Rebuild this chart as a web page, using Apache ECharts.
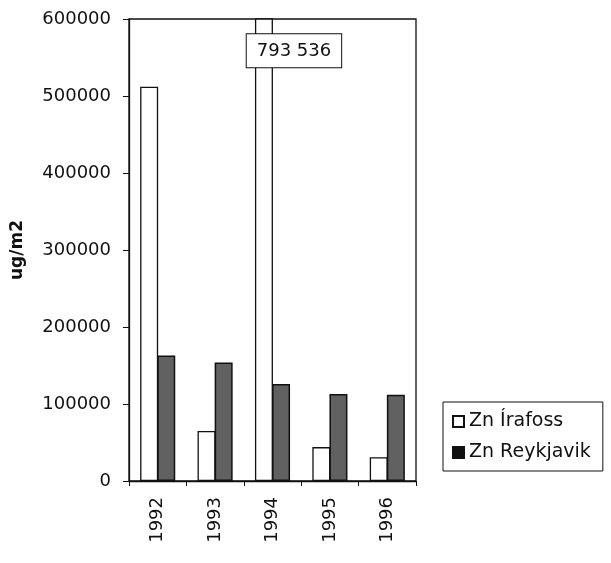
<!DOCTYPE html>
<html>
<head>
<meta charset="utf-8">
<script src="https://cdn.jsdelivr.net/npm/echarts@6/dist/echarts.min.js"></script>
<style>
  html, body { margin: 0; padding: 0; background: #fff; }
  #chart { width: 611px; height: 563px; }
</style>
</head>
<body>
<div id="chart"></div>
<script>
// Zinc deposition, ug/m2, by year
const years = ['1992', '1993', '1994', '1995', '1996'];
const znIrafoss = [512000, 65000, 793536, 44000, 31000];
const znReykjavik = [163000, 154000, 126000, 113000, 112000];
const yTicks = [0, 100000, 200000, 300000, 400000, 500000, 600000];

const FONT = 'DejaVu Sans';
const yMax = yTicks[yTicks.length - 1];

// Thousands separated by a space, e.g. 793 536
const spaced = v => String(v).replace(/\B(?=(\d{3})+(?!\d))/g, ' ');

const irafossData = znIrafoss.map(v => {
  if (v <= yMax) return v;
  // value off the scale: the bar runs past the top and states its value
  return {
    value: v,
    label: {
      show: true,
      position: 'insideTop',
      distance: 0,
      offset: [30, 16],
      formatter: p => spaced(p.value),
      color: '#111',
      fontFamily: FONT,
      fontSize: 18,
      backgroundColor: '#fff',
      borderColor: '#111',
      borderWidth: 1,
      padding: [8, 10, 7, 10]
    }
  };
});

const chart = echarts.init(document.getElementById('chart'), null, { renderer: 'canvas' });
chart.setOption({
  animation: false,
  backgroundColor: '#fff',
  grid: {
    left: 129, right: 195, top: 19, bottom: 82,
    show: true, borderColor: '#111', borderWidth: 1.3, backgroundColor: 'transparent'
  },
  legend: {
    orient: 'vertical',
    left: 443, top: 402,
    padding: [10, 12, 9, 9],
    itemGap: 12,
    itemWidth: 11, itemHeight: 11,
    icon: 'rect',
    borderColor: '#111', borderWidth: 1,
    textStyle: { fontFamily: FONT, fontSize: 19, color: '#111' },
    data: [
      { name: 'Zn Írafoss' },
      { name: 'Zn Reykjavik', itemStyle: { color: '#111', borderColor: '#111' } }
    ]
  },
  xAxis: {
    type: 'category',
    data: years,
    axisLine: { lineStyle: { color: '#111', width: 1.3 } },
    axisTick: { show: true, length: 5, lineStyle: { color: '#111' } },
    axisLabel: { rotate: 90, margin: 16, fontFamily: FONT, fontSize: 18, color: '#111' }
  },
  yAxis: {
    type: 'value',
    min: 0, max: yMax, interval: 100000,
    name: 'ug/m2',
    nameLocation: 'middle',
    nameGap: 103,
    nameTextStyle: { fontFamily: FONT, fontSize: 17, fontWeight: 'bold', color: '#111' },
    axisLine: { show: true, lineStyle: { color: '#111', width: 1.3 } },
    axisTick: { show: true, length: 6, lineStyle: { color: '#111' } },
    axisLabel: {
      margin: 18, fontFamily: FONT, fontSize: 18, color: '#111',
      customValues: yTicks,
      formatter: v => String(v)
    },
    splitLine: { show: false }
  },
  series: [
    {
      name: 'Zn Írafoss',
      type: 'bar',
      data: irafossData,
      barWidth: 18,
      barGap: '-5%',
      itemStyle: { color: '#fff', borderColor: '#111', borderWidth: 1.3 }
    },
    {
      name: 'Zn Reykjavik',
      type: 'bar',
      data: znReykjavik,
      barWidth: 18,
      itemStyle: { color: '#616161', borderColor: '#111', borderWidth: 1.5 }
    }
  ]
});
</script>
</body>
</html>
